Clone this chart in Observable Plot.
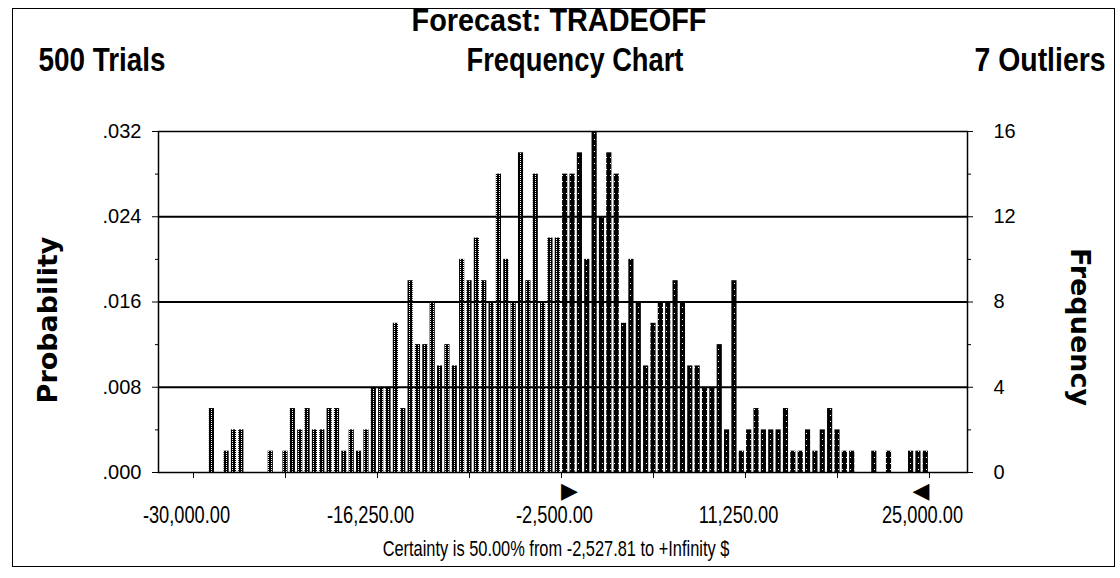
<!DOCTYPE html>
<html>
<head>
<meta charset="utf-8">
<script src="https://cdn.jsdelivr.net/npm/d3@7"></script>
<script src="https://cdn.jsdelivr.net/npm/@observablehq/plot@0.6"></script>
<style>
  html, body { margin: 0; padding: 0; background: #fff; }
  #wrap { position: relative; width: 1120px; height: 578px; overflow: hidden; }
  #border { position: absolute; left: 12px; top: 8px; width: 1101px; height: 557px; border: 1.5px solid #000; pointer-events: none; }
</style>
</head>
<body>
<div id="wrap"><div id="border"></div></div>
<script>
// ---- data ----
const title = "Forecast: TRADEOFF";
const leftHeader = "500 Trials";
const centerHeader = "Frequency Chart";
const rightHeader = "7 Outliers";
const yLeftLabel = "Probability";
const yRightLabel = "Frequency";
const caption = "Certainty is 50.00% from -2,527.81 to +Infinity $";

const trials = 500;
const binStart = -30000;      // display range start
const binWidth = 550;         // 100 groups over -30,000 .. 25,000
const certaintyFrom = -2527.81;
const displayEnd = 25000;

// frequency per group (100 groups)
const counts = [
  0, 0, 3, 0, 1, 2, 2, 0, 0, 0,
  1, 0, 1, 3, 2, 3, 2, 2, 3, 3,
  1, 2, 1, 2, 4, 4, 4, 7, 3, 9,
  6, 6, 8, 5, 6, 5, 10, 9, 11, 9,
  8, 14, 10, 8, 15, 9, 14, 8, 11, 11,
  14, 14, 15, 10, 16, 12, 15, 14, 7, 10,
  8, 5, 7, 8, 8, 9, 8, 5, 5, 4,
  4, 6, 2, 9, 1, 2, 3, 2, 2, 2,
  3, 1, 1, 2, 1, 2, 3, 2, 1, 1,
  0, 0, 1, 0, 1, 0, 0, 1, 1, 1
];

const freqTicks = [0, 4, 8, 12, 16];
const minorFreqTicks = [2, 6, 10, 14];
const gridFreqs = [4, 8, 12];
const xTicks = [-30000, -23125, -16250, -9375, -2500, 4375, 11250, 18125, 25000];
const xLabelTicks = [-30000, -16250, -2500, 11250, 25000];

// ---- build ----
const bins = counts.map((c, i) => ({
  x1: binStart + i * binWidth,
  x2: binStart + (i + 1) * binWidth,
  freq: c,
  certain: binStart + i * binWidth >= certaintyFrom
}));

const plain = "'Liberation Sans', Arial, sans-serif";
const wideBold = "'DejaVu Sans', sans-serif";

const fmtMoney = d => (d < 0 ? "-" : "") + d3.format(",.2f")(Math.abs(d));
const fmtProb = d => (d / trials).toFixed(3).replace(/^0/, "");
const none = () => "";

const chart = Plot.plot({
  width: 1120,
  height: 578,
  marginLeft: 158,
  marginRight: 153,
  marginTop: 131,
  marginBottom: 106,
  style: { background: "transparent", color: "#000", fontFamily: plain },
  x: { domain: [-32615, 27840], label: null },
  y: { domain: [0, 16], label: null },
  marks: [
    Plot.rectY(bins.filter(d => !d.certain && d.freq > 0), {x1: "x1", x2: "x2", y: "freq", fill: "url(#grayDots)", insetLeft: 1.1, insetRight: 1.1}),
    Plot.rectY(bins.filter(d => d.certain && d.freq > 0), {x1: "x1", x2: "x2", y: "freq", fill: "url(#darkDots)", insetLeft: 1.1, insetRight: 1.1}),
    Plot.ruleY(gridFreqs, {stroke: "#000", strokeWidth: 2}),
    Plot.frame({stroke: "#000", strokeWidth: 1.5}),
    // left: probability
    Plot.axisY({anchor: "left", ticks: freqTicks, tickSize: 6, tickPadding: 11, tickFormat: fmtProb, fontSize: 20, fontFamily: plain, label: null}),
    Plot.axisY({anchor: "left", ticks: minorFreqTicks, tickSize: 3, tickFormat: none, label: null}),
    // right: frequency
    Plot.axisY({anchor: "right", ticks: freqTicks, tickSize: 5, tickPadding: 21, fontSize: 20, fontFamily: plain, label: null}),
    Plot.axisY({anchor: "right", ticks: minorFreqTicks, tickSize: 3, tickFormat: none, label: null}),
    // bottom
    Plot.axisX({ticks: xTicks, tickSize: 6, tickFormat: none, label: null}),
    Plot.axisX({ticks: xLabelTicks, tickSize: 0, tickPadding: 33, dx: -7, tickFormat: fmtMoney, fontSize: 24, fontFamily: plain, label: null, className: "x-labels"}),
    // certainty grabbers
    Plot.text([certaintyFrom], {x: d => d, text: () => "\u25B6", frameAnchor: "bottom", dy: 18, textAnchor: "start", lineAnchor: "middle", fontSize: 22, fill: "#000", fontFamily: wideBold}),
    Plot.text([displayEnd], {x: d => d, text: () => "\u25C0", frameAnchor: "bottom", dy: 18, textAnchor: "end", lineAnchor: "middle", fontSize: 22, fill: "#000", fontFamily: wideBold}),
    // titles
    Plot.text([title], {text: d => d, frameAnchor: "top", dx: -4, dy: -111, textAnchor: "middle", lineAnchor: "middle", fontSize: 32, fontWeight: "bold", fontFamily: plain, className: "t-title"}),
    Plot.text([centerHeader], {text: d => d, frameAnchor: "top", dx: 12, dy: -71, textAnchor: "middle", lineAnchor: "middle", fontSize: 33, fontWeight: "bold", fontFamily: plain, className: "t-center"}),
    Plot.text([leftHeader], {text: d => d, frameAnchor: "top-left", dx: -120, dy: -71, textAnchor: "start", lineAnchor: "middle", fontSize: 33, fontWeight: "bold", fontFamily: plain, className: "t-left"}),
    Plot.text([rightHeader], {text: d => d, frameAnchor: "top-right", dx: 138, dy: -71, textAnchor: "end", lineAnchor: "middle", fontSize: 33, fontWeight: "bold", fontFamily: plain, className: "t-right"}),
    Plot.text([yLeftLabel], {text: d => d, frameAnchor: "left", dx: -110, dy: 18, rotate: -90, textAnchor: "middle", lineAnchor: "middle", fontSize: 27, fontWeight: "bold", fontFamily: wideBold}),
    Plot.text([yRightLabel], {text: d => d, frameAnchor: "right", dx: 112, dy: 25, rotate: 90, textAnchor: "middle", lineAnchor: "middle", fontSize: 27, fontWeight: "bold", fontFamily: wideBold}),
    Plot.text([caption], {text: d => d, frameAnchor: "bottom", dx: -7, dy: 76, textAnchor: "middle", lineAnchor: "middle", fontSize: 22, fontFamily: plain, className: "t-caption"})
  ]
});

d3.select(chart).insert("defs", ":first-child").html(`
  <pattern id="grayDots" width="3" height="4" patternUnits="userSpaceOnUse">
    <rect width="3" height="4" fill="#000"/>
    <rect x="1" y="1" width="1" height="1" fill="#fff"/>
    <rect x="1" y="3" width="1" height="1" fill="#fff"/>
  </pattern>
  <pattern id="darkDots" width="4" height="6" patternUnits="userSpaceOnUse">
    <rect width="4" height="6" fill="#000"/>
    <rect x="2" y="1" width="1" height="1" fill="#fff"/>
  </pattern>`);

chart.style.position = "absolute";
chart.style.left = "0px";
chart.style.top = "0px";
document.getElementById("wrap").appendChild(chart);

// condense texts horizontally (the original uses a narrow face), scaling about each text's anchor
function squeeze(selector, target) {
  d3.select(chart).selectAll(selector).each(function () {
    const bb = this.getBBox();
    const w = bb.width;
    const t = typeof target === "function" ? target(w) : target;
    if (!(w > t)) return;
    const k = t / w;
    const anchor = getComputedStyle(this).textAnchor;
    const ax = anchor === "end" ? bb.x + bb.width : anchor === "start" ? bb.x : bb.x + bb.width / 2;
    const prev = this.getAttribute("transform") || "";
    this.setAttribute("transform", `${prev} translate(${ax},0) scale(${k},1) translate(${-ax},0)`.trim());
  });
}
squeeze(".t-title text", 295);
squeeze(".t-center text", 217);
squeeze(".t-left text", 127);
squeeze(".t-right text", 131);
squeeze(".t-caption text", 347);
squeeze(".x-labels text", w => w * 0.76);
</script>
</body>
</html>
